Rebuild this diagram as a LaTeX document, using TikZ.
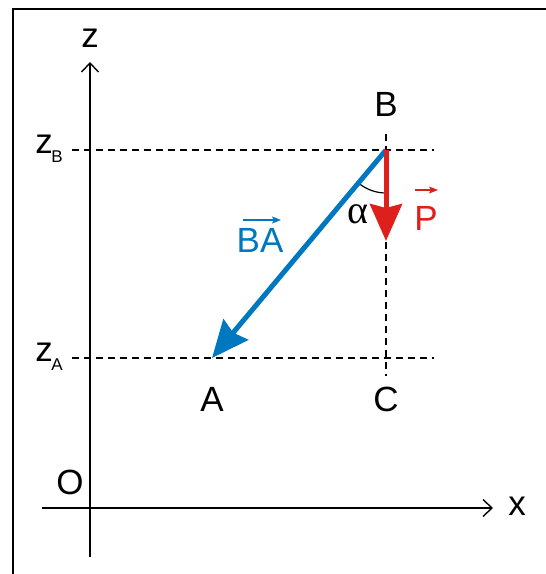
\documentclass[tikz,border=0pt]{standalone}
\usepackage{fontspec}
\setmainfont{Liberation Sans}
\newfontfamily\serifgreek{Liberation Serif}
\usetikzlibrary{arrows.meta}
\definecolor{vecblue}{RGB}{0,120,192}
\definecolor{vecred}{RGB}{222,32,28}
\tikzset{
  lbl/.style={font=\fontsize{35}{35}\selectfont, inner sep=0pt},
  sublbl/.style={font=\fontsize{17}{17}\selectfont, inner sep=0pt},
  axis/.style={line width=1.4pt, -{Straight Barb[length=9pt,width=17pt,line width=1.4pt]}},
  guide/.style={line width=1.2pt, dash pattern=on 7pt off 5pt},
  bigvec/.style={line width=5pt, -{Stealth[length=37pt,width=32pt,inset=4pt]}},
  smallvec/.style={line width=1.2pt, -{Stealth[length=9pt,width=7pt,inset=2pt]}},
}
\begin{document}
\begin{tikzpicture}[x=1pt,y=-1pt]
\useasboundingbox (0,0) rectangle (546,574);
\draw[line width=2.2pt] (13,9) rectangle (600,620);
% axes
\coordinate (zbot) at (90,557);
\coordinate (ztop) at (90,62);
\coordinate (xl) at (42,508);
\coordinate (xr) at (493,508);
\draw[axis] (zbot) -- (ztop);
\draw[axis] (xl) -- (xr);
\node[lbl] (zlab) at (90,38) {z};
\node[lbl] (xlab) at (517,506) {x};
\node[lbl] (O) at (70,482) {O};
% points
\coordinate (B) at (386,150);
\coordinate (A) at (212,358);
\coordinate (Cp) at (386,358);
% guides
\coordinate (zBl) at (72,150);
\coordinate (zBr) at (434,150);
\coordinate (zAl) at (72,358);
\coordinate (zAr) at (434,358);
\coordinate (vt) at (386,134);
\coordinate (vb) at (386,376);
\draw[guide] (zBl) -- (zBr);
\draw[guide] (zAl) -- (zAr);
\draw[guide] (vt) -- (vb);
% axis value labels
\node[lbl] (zB) at (44,144) {z};
\node[sublbl] (zBs) at (57,157) {B};
\node[lbl] (zA) at (44,352) {z};
\node[sublbl] (zAs) at (57,365) {A};
% point labels
\node[lbl] (Blab) at (386,104) {B};
\node[lbl] (Alab) at (212,399) {A};
\node[lbl] (Clab) at (386,399) {C};
% angle
\draw[line width=1.2pt] (B) ++(130:43) arc[start angle=130, end angle=90, radius=43];
\node[font=\serifgreek\fontsize{40}{40}\selectfont, inner sep=0pt] (alpha) at (358,214) {α};
% vectors
\coordinate (Ptip) at (386,241);
\draw[bigvec, vecblue] (B) -- (A);
\draw[bigvec, vecred] (B) -- (Ptip);
\node[lbl, text=vecred] (Plab) at (426,218) {P};
\coordinate (Pa1) at (415,190);
\coordinate (Pa2) at (438,190);
\draw[smallvec, vecred] (Pa1) -- (Pa2);
\node[lbl, text=vecblue] (BAlab) at (260,240) {BA};
\coordinate (BAa1) at (243,220);
\coordinate (BAa2) at (281,220);
\draw[smallvec, vecblue] (BAa1) -- (BAa2);
\end{tikzpicture}
\end{document}
